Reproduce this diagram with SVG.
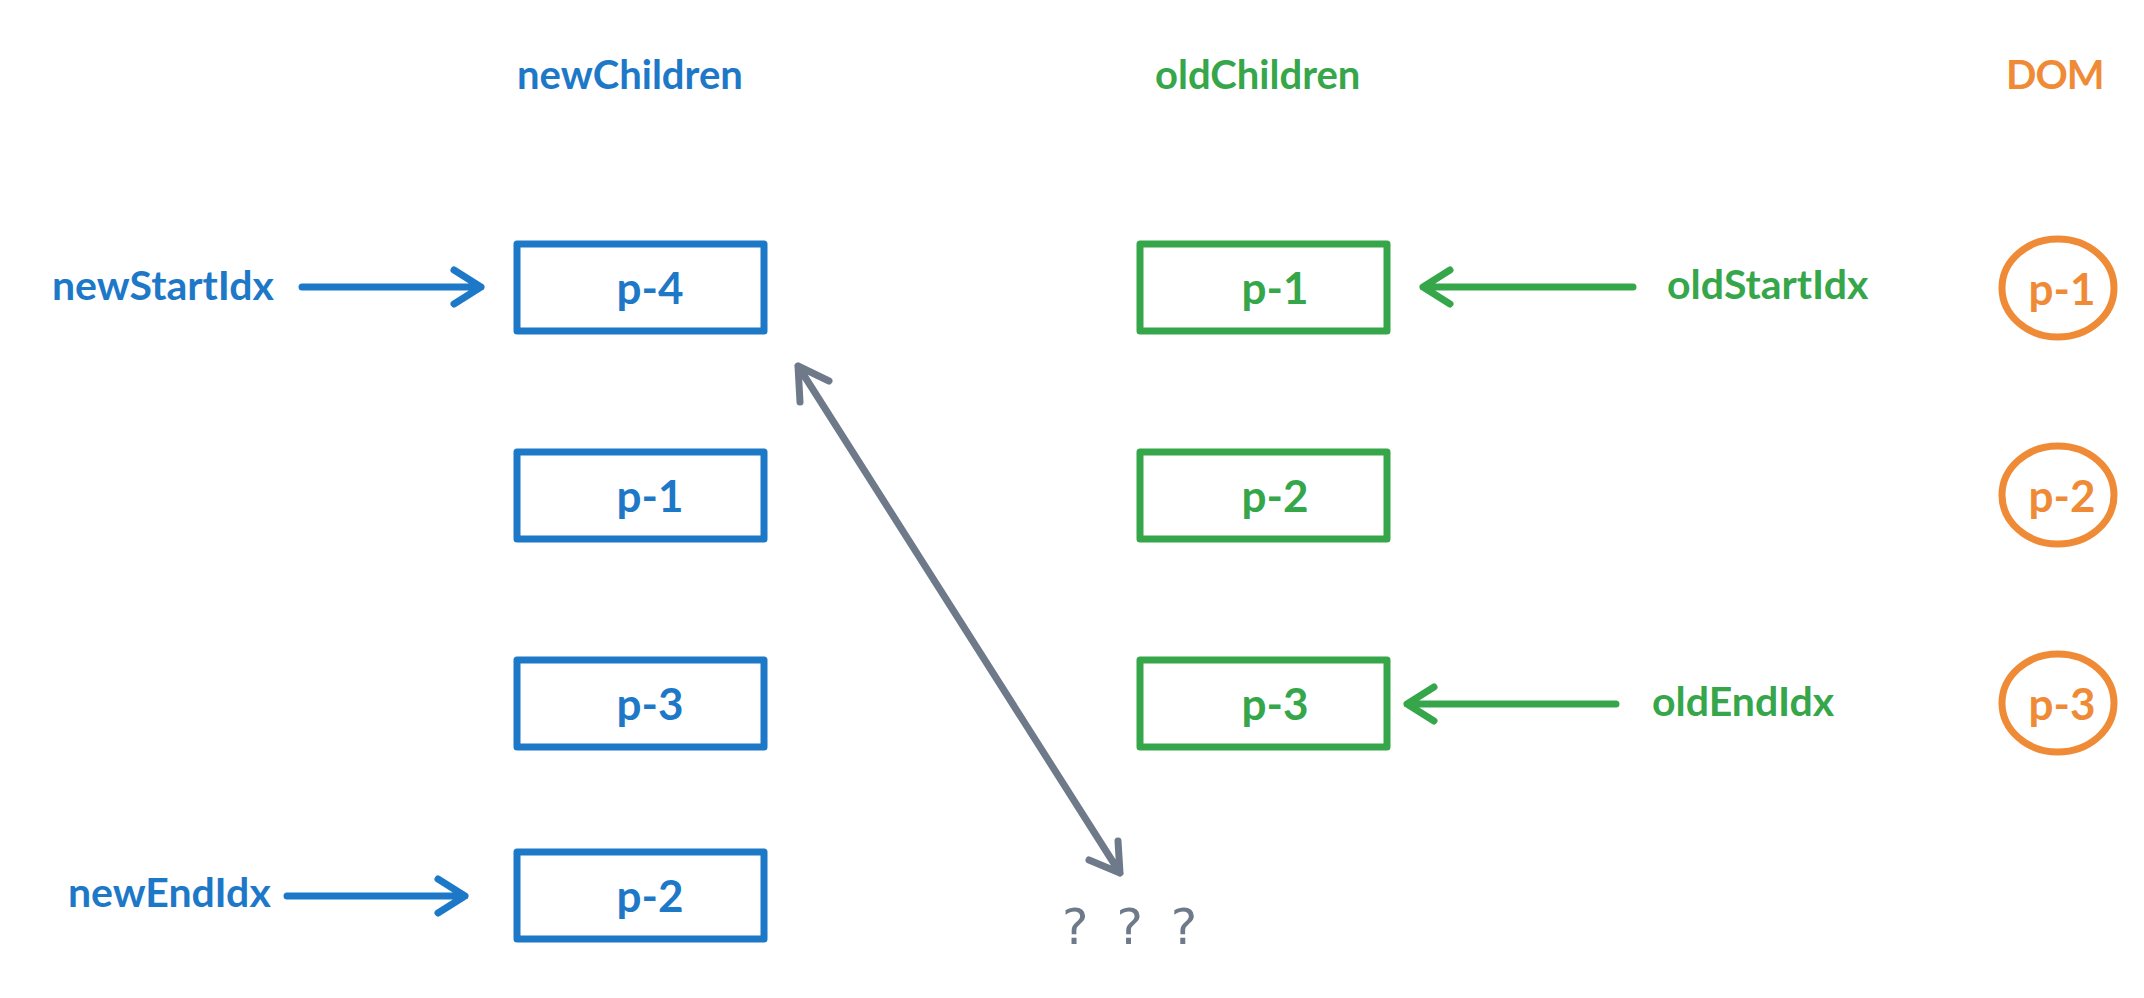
<svg xmlns="http://www.w3.org/2000/svg" width="2144" height="998" viewBox="0 0 2144 998">
<style>
text{font-family:"Lato","Liberation Sans",sans-serif;font-weight:bold;dominant-baseline:central}
.blue{fill:#1e78c8}.green{fill:#36a64a}.orange{fill:#ef8b36}
.bbox{fill:none;stroke:#1e78c8;stroke-width:7;stroke-linejoin:round}
.gbox{fill:none;stroke:#36a64a;stroke-width:7;stroke-linejoin:round}
.ocirc{fill:none;stroke:#ef8b36;stroke-width:7}
.hd{font-size:40px}
.lb{font-size:44px;text-anchor:middle}
.ix{font-size:41px}
.ba{stroke:#1e78c8}.ga{stroke:#36a64a}.gr{stroke:#6e7a8a}
.arr{fill:none;stroke-width:7;stroke-linecap:round;stroke-linejoin:round}
.q{font-family:"DejaVu Sans",sans-serif;font-weight:normal;font-size:50px;fill:#6e7a8a;letter-spacing:6px}
</style>
<rect width="2144" height="998" fill="#ffffff"/>
<g id="headers">
<text class="hd blue" x="517" y="74">newChildren</text>
<text class="hd green" x="1155" y="74">oldChildren</text>
<text class="hd orange" x="2006" y="74" style="letter-spacing:-1px">DOM</text>
</g>
<g id="new-p4"><rect class="bbox" x="517" y="244" width="247" height="87"/><text class="lb blue" x="650" y="287">p-4</text></g>
<g id="new-p1"><rect class="bbox" x="517" y="452" width="247" height="87"/><text class="lb blue" x="650" y="495">p-1</text></g>
<g id="new-p3"><rect class="bbox" x="517" y="660" width="247" height="87"/><text class="lb blue" x="650" y="703">p-3</text></g>
<g id="new-p2"><rect class="bbox" x="517" y="852" width="247" height="87"/><text class="lb blue" x="650" y="895">p-2</text></g>
<g id="old-p1"><rect class="gbox" x="1140" y="244" width="247" height="87"/><text class="lb green" x="1275" y="287">p-1</text></g>
<g id="old-p2"><rect class="gbox" x="1140" y="452" width="247" height="87"/><text class="lb green" x="1275" y="495">p-2</text></g>
<g id="old-p3"><rect class="gbox" x="1140" y="660" width="247" height="87"/><text class="lb green" x="1275" y="703">p-3</text></g>
<g id="dom-p1"><ellipse class="ocirc" cx="2058" cy="288" rx="56" ry="49"/><text class="lb orange" x="2062" y="288">p-1</text></g>
<g id="dom-p2"><ellipse class="ocirc" cx="2058" cy="495" rx="56" ry="49"/><text class="lb orange" x="2062" y="495">p-2</text></g>
<g id="dom-p3"><ellipse class="ocirc" cx="2058" cy="703" rx="56" ry="49"/><text class="lb orange" x="2062" y="703">p-3</text></g>
<g id="index-labels">
<text class="ix blue" x="52" y="284">newStartIdx</text>
<text class="ix blue" x="68" y="891">newEndIdx</text>
<text class="ix green" x="1667" y="283">oldStartIdx</text>
<text class="ix green" x="1652" y="700">oldEndIdx</text>
<text class="q" x="1062" y="927">? ? ?</text>
</g>
<g id="connectors">
<path class="arr ba" d="M302 287H481M454 270L481 287L454 304"/>
<path class="arr ba" d="M287 896H465M438 879L465 896L438 913"/>
<path class="arr ga" d="M1633 287H1423M1450 270L1423 287L1450 304"/>
<path class="arr ga" d="M1616 704H1407M1434 687L1407 704L1434 721"/>
<path class="arr gr" d="M798 366L1120 873M800 402L798 366L829 381M1089 860L1120 873L1118 841"/>
</g>
</svg>
